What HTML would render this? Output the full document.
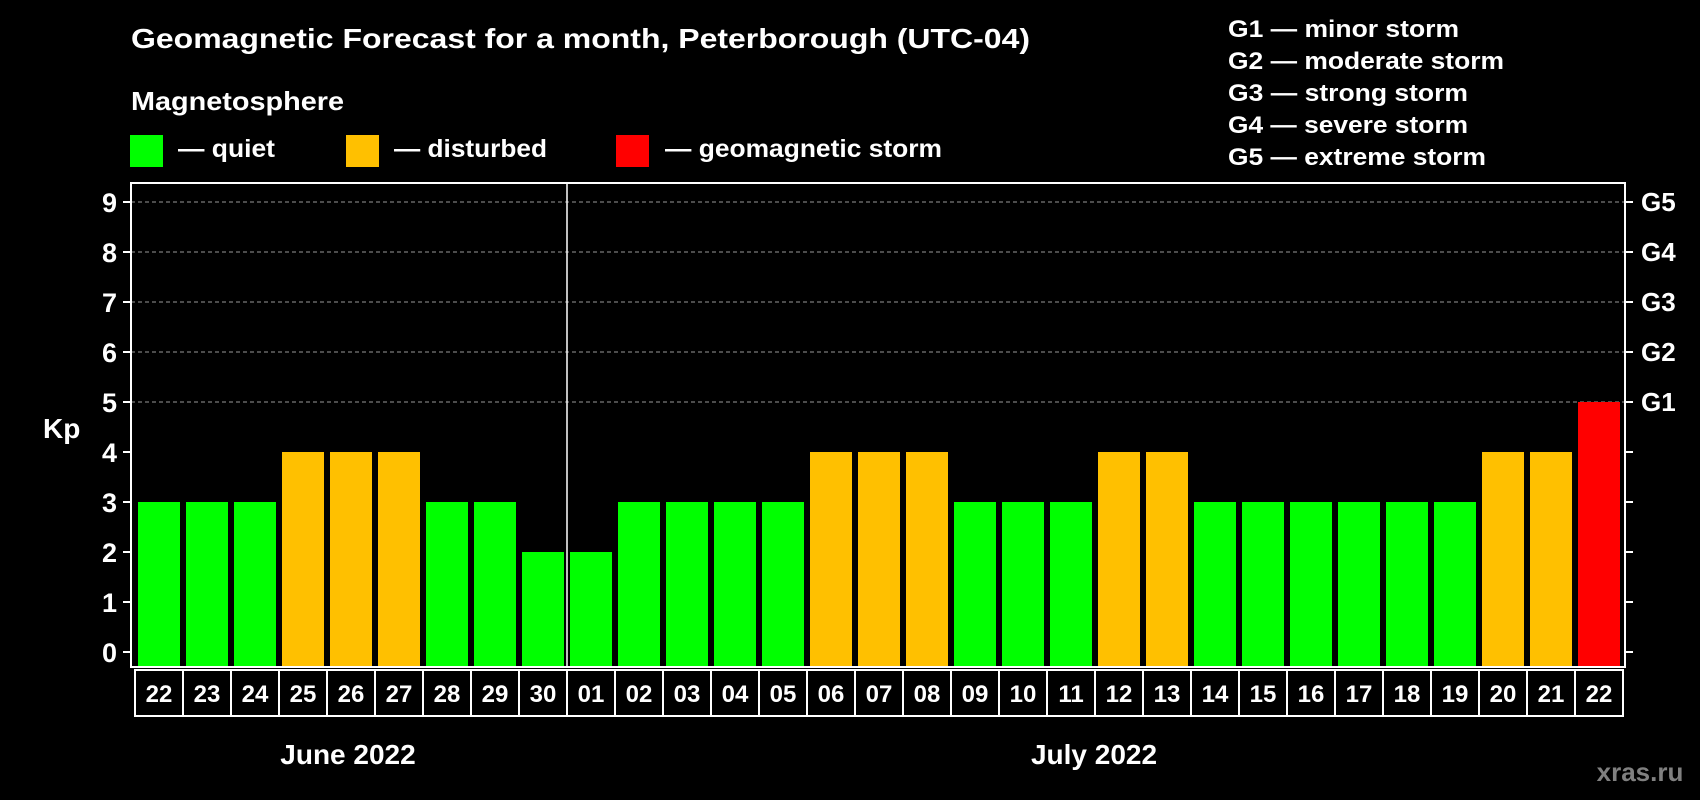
<!DOCTYPE html>
<html><head><meta charset="utf-8"><style>
html,body{margin:0;padding:0;background:#000;}
svg{display:block;font-family:"Liberation Sans",sans-serif;font-weight:bold;}
</style></head><body>
<svg id="chart" width="1700" height="800" viewBox="0 0 1700 800">
<rect x="0" y="0" width="1700" height="800" fill="#000"/>
<text x="131" y="48" font-size="28" fill="#fff" textLength="899" lengthAdjust="spacingAndGlyphs">Geomagnetic Forecast for a month, Peterborough (UTC-04)</text>
<text x="131" y="110" font-size="26" fill="#fff" textLength="213" lengthAdjust="spacingAndGlyphs">Magnetosphere</text>
<g><rect x="130" y="135" width="33" height="32" fill="#00ff00"/><text x="178" y="157" font-size="25" fill="#fff" textLength="97" lengthAdjust="spacingAndGlyphs">— quiet</text></g>
<g><rect x="346" y="135" width="33" height="32" fill="#ffc000"/><text x="394" y="157" font-size="25" fill="#fff" textLength="153" lengthAdjust="spacingAndGlyphs">— disturbed</text></g>
<g><rect x="616" y="135" width="33" height="32" fill="#ff0000"/><text x="665" y="157" font-size="25" fill="#fff" textLength="277" lengthAdjust="spacingAndGlyphs">— geomagnetic storm</text></g>
<g font-size="24" fill="#fff">
<text x="1228" y="37" textLength="231" lengthAdjust="spacingAndGlyphs">G1 — minor storm</text>
<text x="1228" y="69" textLength="276" lengthAdjust="spacingAndGlyphs">G2 — moderate storm</text>
<text x="1228" y="101" textLength="240" lengthAdjust="spacingAndGlyphs">G3 — strong storm</text>
<text x="1228" y="133" textLength="240" lengthAdjust="spacingAndGlyphs">G4 — severe storm</text>
<text x="1228" y="165" textLength="258" lengthAdjust="spacingAndGlyphs">G5 — extreme storm</text>
</g>
<text x="43" y="438" font-size="28" fill="#fff">Kp</text>
<g id="grid"></g><g id="bars"></g><g id="axes"></g>
<text x="348" y="764" font-size="28" fill="#fff" text-anchor="middle">June 2022</text>
<text x="1094" y="764" font-size="28" fill="#fff" text-anchor="middle">July 2022</text>
<text x="1640" y="781" font-size="26" fill="#808080" text-anchor="middle">xras.ru</text>
</svg>
<script>
const days = ["22","23","24","25","26","27","28","29","30","01","02","03","04","05","06","07","08","09","10","11","12","13","14","15","16","17","18","19","20","21","22"];
const kpValues = [3,3,3,4,4,4,3,3,2,2,3,3,3,3,4,4,4,3,3,3,4,4,3,3,3,3,3,3,4,4,5];
const yTicks = [0,1,2,3,4,5,6,7,8,9];
const gLabels = ["G1","G2","G3","G4","G5"];
const gLevels = [5,6,7,8,9];

const NS="http://www.w3.org/2000/svg";
const plotLeft=131,plotRight=1625,plotTop=183,plotBottom=667;
const yScale=v=>652-v*50;
const step=48, bw=42, x0=138;
const xScale=i=>x0+i*step;
function mk(t,a,p){const e=document.createElementNS(NS,t);for(const k in a)e.setAttribute(k,a[k]);p.appendChild(e);return e;}
const gridG=document.getElementById('grid'),barsG=document.getElementById('bars'),axesG=document.getElementById('axes');
gLevels.forEach(v=>{
  const l=mk('line',{x1:plotLeft,x2:plotRight,y1:yScale(v),y2:yScale(v),stroke:'#999','stroke-dasharray':'4,3','stroke-width':1},gridG);
  
  
});
kpValues.forEach((v,i)=>{
  const c=v>=5?'#ff0000':(v>=4?'#ffc000':'#00ff00');
  const r=mk('rect',{x:xScale(i),y:yScale(v),width:bw,height:plotBottom-1-yScale(v),fill:c},barsG);
  
  
});
const f=mk('rect',{x:plotLeft,y:plotTop,width:plotRight-plotLeft,height:plotBottom-plotTop,fill:'none',stroke:'#fff','stroke-width':2},axesG);


const sepX=xScale(9)-3;
const s=mk('line',{x1:sepX,x2:sepX,y1:plotTop,y2:plotBottom,stroke:'#fff','stroke-width':1.5},axesG);


yTicks.forEach(v=>{
  mk('line',{x1:plotLeft-8,x2:plotLeft,y1:yScale(v),y2:yScale(v),stroke:'#fff','stroke-width':2},axesG);
  mk('line',{x1:plotRight,x2:plotRight+8,y1:yScale(v),y2:yScale(v),stroke:'#fff','stroke-width':2},axesG);
  const t=mk('text',{x:plotLeft-14,y:yScale(v)+10,'font-size':27,fill:'#fff','text-anchor':'end'},axesG);
  t.textContent=v;
  
  
});
gLabels.forEach((g,i)=>{
  const t=mk('text',{x:1641,y:yScale(gLevels[i])+9,'font-size':26,fill:'#fff'},axesG);
  t.textContent=g;
  
  
});
days.forEach((d,i)=>{
  const bx=xScale(i)-3;
  const r=mk('rect',{x:bx,y:670,width:step,height:46,fill:'#000',stroke:'#fff','stroke-width':2},axesG);
  
  
  const t=mk('text',{x:bx+step/2,y:702,'font-size':24,fill:'#fff','text-anchor':'middle'},axesG);
  t.textContent=d;
  
  
});
</script>
</body></html>
